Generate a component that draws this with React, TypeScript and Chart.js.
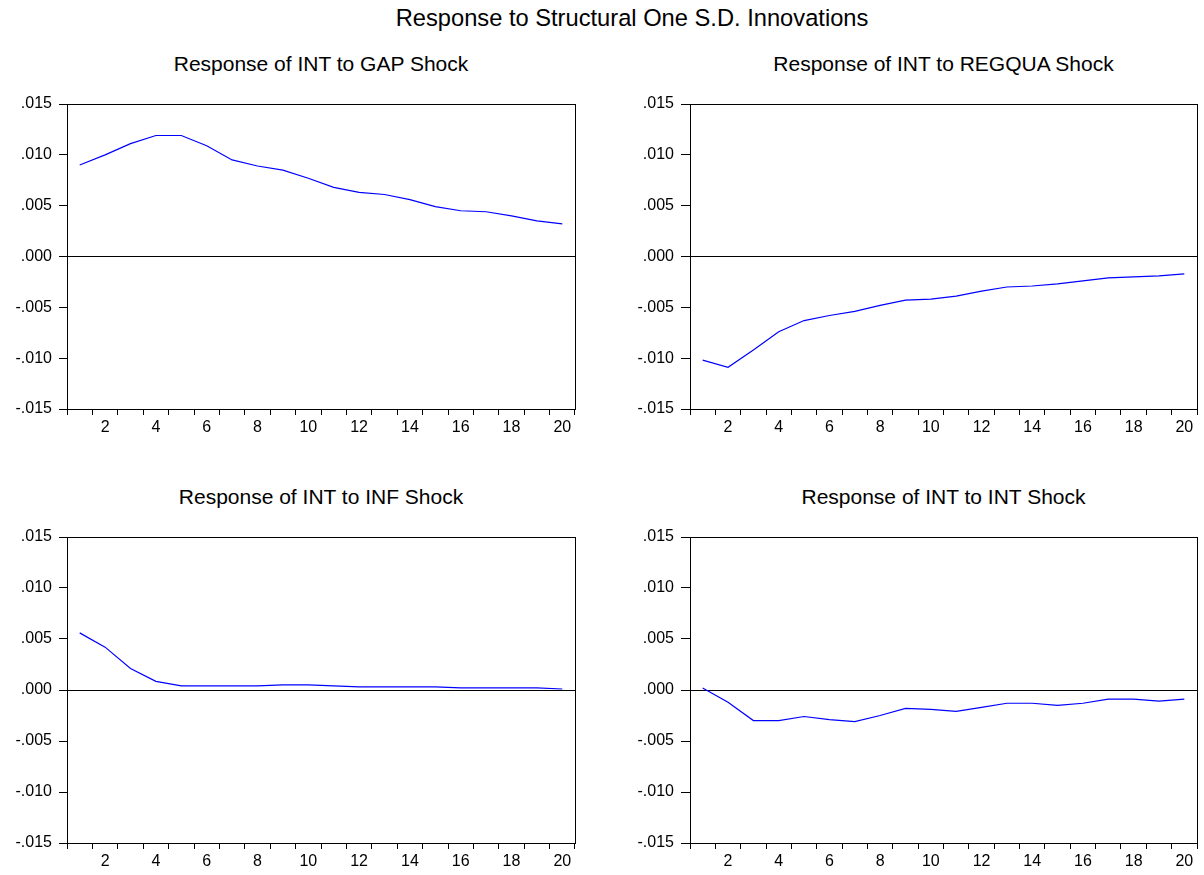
import React, { useEffect, useRef } from 'react';
import { Chart, registerables } from 'chart.js';

Chart.register(...registerables);

const periods = ['1', '2', '3', '4', '5', '6', '7', '8', '9', '10', '11', '12', '13', '14', '15', '16', '17', '18', '19', '20'];

const gapShock = [0.0090, 0.0100, 0.0111, 0.0119, 0.0119, 0.0109, 0.0095, 0.0089, 0.0085, 0.0077, 0.0068, 0.0063, 0.0061, 0.0056, 0.0049, 0.0045, 0.0044, 0.0040, 0.0035, 0.0032];
const regquaShock = [-0.0102, -0.0109, -0.0092, -0.0074, -0.0063, -0.0058, -0.0054, -0.0048, -0.0043, -0.0042, -0.0039, -0.0034, -0.0030, -0.0029, -0.0027, -0.0024, -0.0021, -0.0020, -0.0019, -0.0017];
const infShock = [0.0056, 0.0042, 0.0021, 0.00085, 0.0004, 0.0004, 0.0004, 0.0004, 0.0005, 0.0005, 0.0004, 0.0003, 0.0003, 0.0003, 0.0003, 0.0002, 0.0002, 0.0002, 0.0002, 0.0001];
const intShock = [0.0002, -0.0012, -0.0030, -0.0030, -0.0026, -0.0029, -0.0031, -0.0025, -0.0018, -0.0019, -0.0021, -0.0017, -0.0013, -0.0013, -0.0015, -0.0013, -0.0009, -0.0009, -0.0011, -0.0009];

const yMin = -0.015;
const yMax = 0.015;
const yStep = 0.005;

const mainTitle = 'Response to Structural One S.D. Innovations';
const panelTitles = [
  'Response of INT to GAP Shock',
  'Response of INT to REGQUA Shock',
  'Response of INT to INF Shock',
  'Response of INT to INT Shock',
];

const FONT = '"Liberation Sans", Arial, Helvetica, sans-serif';

const fmtY = (v: number) => {
  const s = Number(v).toFixed(3);
  if (s === '-0.000') return '.000';
  return s.replace(/^(-?)0\./, '$1.');
};

const boxPlugin = {
  id: 'boxBorder',
  afterDraw(chart: any) {
    const { ctx, chartArea } = chart;
    const l = Math.round(chartArea.left) + 0.5;
    const t = Math.round(chartArea.top) + 0.5;
    const r = Math.round(chartArea.right) + 0.5;
    const b = Math.round(chartArea.bottom) + 0.5;
    ctx.save();
    ctx.strokeStyle = '#000';
    ctx.lineWidth = 1;
    ctx.strokeRect(l, t, r - l, b - t);
    ctx.restore();
  },
};

type PanelProps = {
  values: number[];
  left: number;
  top: number;
  width: number;
  height: number;
  padding: { left: number; top: number; right: number; bottom: number };
  yTickLen: number;
};

function Panel({ values, left, top, width, height, padding, yTickLen }: PanelProps) {
  const ref = useRef<HTMLCanvasElement | null>(null);
  useEffect(() => {
    if (!ref.current) return;
    const chart = new Chart(ref.current, {
      type: 'line',
      data: {
        labels: periods,
        datasets: [
          {
            data: values,
            borderColor: '#0000FF',
            borderWidth: 1.2,
            pointRadius: 0,
            tension: 0,
            fill: false,
          },
        ],
      },
      options: {
        responsive: false,
        animation: false,
        devicePixelRatio: 1,
        layout: { padding },
        plugins: {
          legend: { display: false },
          title: { display: false },
          tooltip: { enabled: false },
        },
        scales: {
          x: {
            type: 'category',
            offset: true,
            grid: {
              offset: true,
              drawOnChartArea: false,
              drawTicks: true,
              tickLength: 6,
              tickColor: '#000',
              lineWidth: 1,
            },
            border: { display: false },
            ticks: {
              autoSkip: false,
              maxRotation: 0,
              minRotation: 0,
              padding: 3,
              color: '#000',
              font: { family: FONT, size: 16 },
              callback: function (this: any, value: any, index: number) {
                return index % 2 === 1 ? this.getLabelForValue(value) : '';
              },
            },
            afterFit: (scale: any) => {
              scale.height = 30;
              scale.paddingLeft = 0;
              scale.paddingRight = 0;
              scale.paddingTop = 0;
              scale.paddingBottom = 0;
            },
          },
          y: {
            type: 'linear',
            min: yMin,
            max: yMax,
            grid: {
              drawOnChartArea: true,
              drawTicks: true,
              tickLength: yTickLen,
              tickColor: '#000',
              color: (ctx: any) =>
                ctx.tick && Math.abs(ctx.tick.value) < 1e-9 ? '#000' : 'rgba(0,0,0,0)',
              lineWidth: 1,
            },
            border: { display: false },
            ticks: {
              stepSize: yStep,
              autoSkip: false,
              padding: 7,
              color: '#000',
              font: { family: FONT, size: 16 },
              callback: (v: any) => fmtY(Number(v)),
            },
            afterFit: (scale: any) => {
              scale.width = 60;
              scale.paddingLeft = 0;
              scale.paddingRight = 0;
              scale.paddingTop = 0;
              scale.paddingBottom = 0;
            },
          },
        },
      },
      plugins: [boxPlugin],
    });
    return () => chart.destroy();
  }, []);
  return (
    <canvas
      ref={ref}
      width={width}
      height={height}
      style={{ position: 'absolute', left, top, width, height }}
    />
  );
}

function Title({ text, center, top, size }: { text: string; center: number; top: number; size: number }) {
  return (
    <div
      style={{
        position: 'absolute',
        left: center - 350,
        top,
        width: 700,
        textAlign: 'center',
        fontFamily: FONT,
        fontSize: size,
        lineHeight: `${size}px`,
        color: '#000',
        whiteSpace: 'nowrap',
      }}
    >
      {text}
    </div>
  );
}

export default function App() {
  return (
    <div
      style={{
        position: 'absolute',
        left: 0,
        top: 0,
        width: 1204,
        height: 875,
        background: '#fff',
        overflow: 'hidden',
      }}
    >
      <Title text={mainTitle} center={632} top={7} size={23.7} />
      <Title text={panelTitles[0]} center={321} top={53} size={21} />
      <Title text={panelTitles[1]} center={943.5} top={53} size={21} />
      <Title text={panelTitles[2]} center={321} top={486} size={21} />
      <Title text={panelTitles[3]} center={943.5} top={486} size={21} />
      <Panel
        values={gapShock}
        left={0}
        top={94}
        width={600}
        height={345}
        padding={{ left: 7, top: 10, right: 25, bottom: 0 }}
        yTickLen={8}
      />
      <Panel
        values={regquaShock}
        left={620}
        top={94}
        width={584}
        height={345}
        padding={{ left: 10, top: 10, right: 7, bottom: 0 }}
        yTickLen={9}
      />
      <Panel
        values={infShock}
        left={0}
        top={527}
        width={600}
        height={348}
        padding={{ left: 7, top: 10, right: 25, bottom: 2 }}
        yTickLen={8}
      />
      <Panel
        values={intShock}
        left={620}
        top={527}
        width={584}
        height={348}
        padding={{ left: 10, top: 10, right: 7, bottom: 2 }}
        yTickLen={9}
      />
    </div>
  );
}
